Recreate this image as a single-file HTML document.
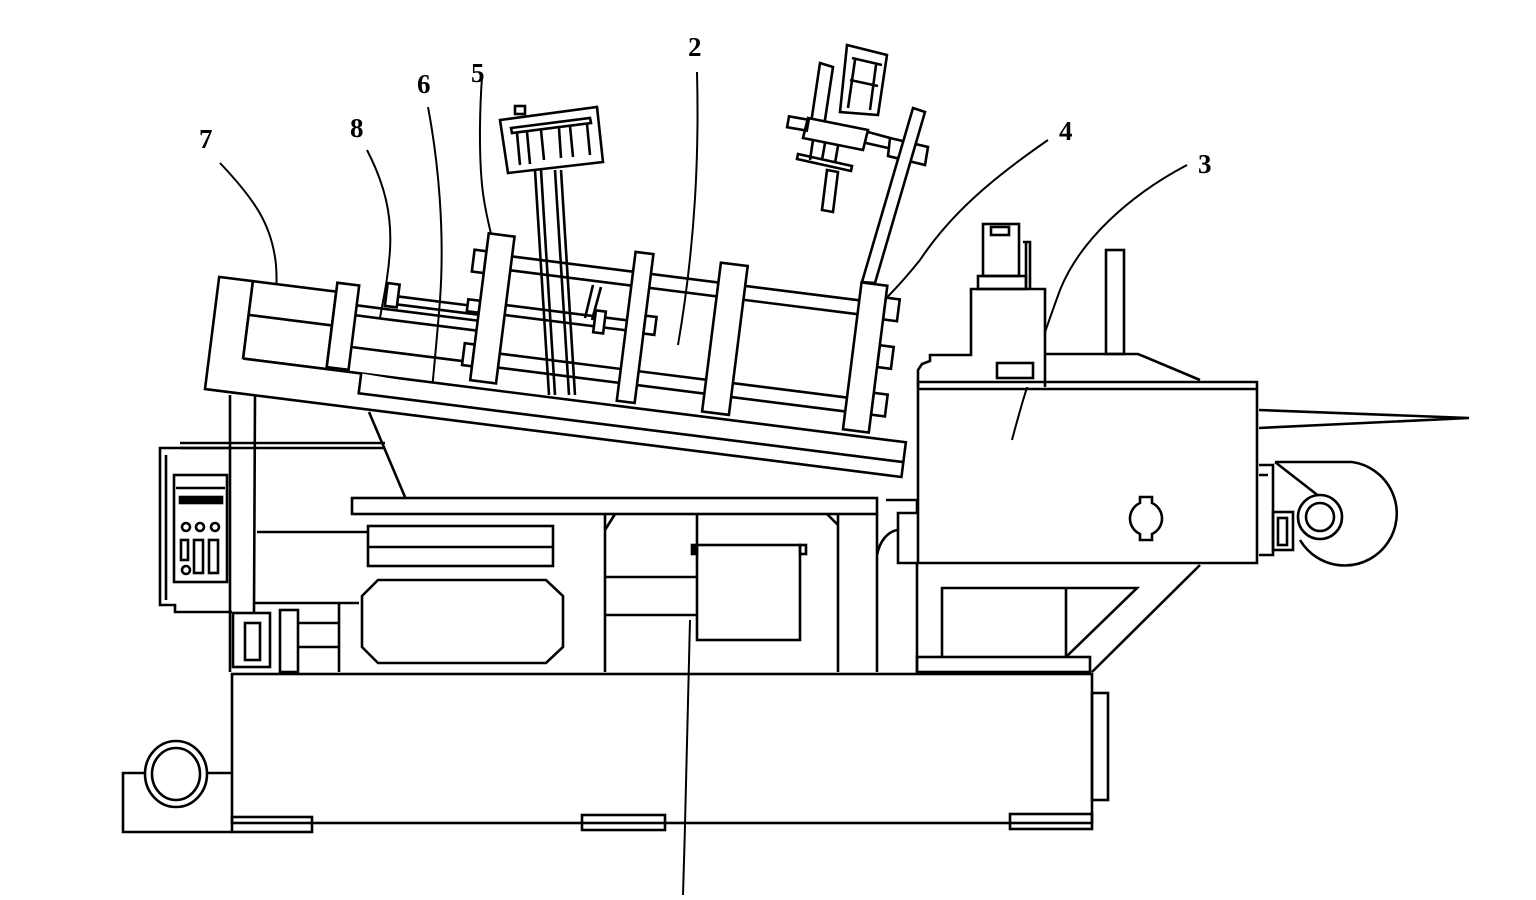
<!DOCTYPE html>
<html><head><meta charset="utf-8"><style>
html,body{margin:0;padding:0;background:#fff;}
svg{display:block;}
text{font-family:"Liberation Serif",serif;font-weight:bold;font-size:27px;fill:#000;}
</style></head><body>
<svg width="1536" height="900" viewBox="0 0 1536 900" xmlns="http://www.w3.org/2000/svg">
<g fill="none" stroke="#000" stroke-width="2.6" stroke-linejoin="miter">
<!-- labels -->
<text x="199" y="148" stroke="none">7</text>
<text x="350" y="137" stroke="none">8</text>
<text x="417" y="93" stroke="none">6</text>
<text x="471" y="82" stroke="none">5</text>
<text x="688" y="56" stroke="none">2</text>
<text x="1059" y="140" stroke="none">4</text>
<text x="1198" y="173" stroke="none">3</text>
<!-- leaders -->
<path d="M220,163 C255,200 272,225 276,265 C278,290 274,315 273,333" stroke-width="2"/>
<path d="M367,150 C385,185 392,215 390,250 C388,280 383,300 380,318" stroke-width="2"/>
<path d="M428,107 C438,160 445,230 440,300 C436,350 432,390 430,410" stroke-width="2"/>
<path d="M482,77 C479,120 479,170 484,200 C488,225 494,245 497,257" stroke-width="2"/>
<path d="M697,72 C699,150 696,240 678,345" stroke-width="2"/>
<path d="M1048,140 C990,180 950,215 920,260 C900,285 885,300 872,312" stroke-width="2"/>
<path d="M1187,165 C1130,195 1080,240 1060,290 C1040,345 1025,390 1012,440" stroke-width="2"/>
<path d="M690,620 C688,700 686,800 683,895" stroke-width="2"/>

<!-- base -->
<rect x="232" y="674" width="860" height="149"/>
<rect x="232" y="817" width="80" height="15"/>
<rect x="582" y="815" width="83" height="15"/>
<rect x="1010" y="814" width="82" height="15"/>
<rect x="1092" y="693" width="16" height="107"/>
<path d="M232,832 H123 V773 H150"/>
<line x1="200" y1="773" x2="232" y2="773"/>
<ellipse cx="176" cy="774" rx="31" ry="33" fill="#fff"/>
<ellipse cx="176" cy="774" rx="24" ry="26"/>

<!-- left control panel -->
<path d="M180,443 H385 M180,448 H385"/>
<path d="M232,448 H160 V605 H175 V612 H232"/>
<path d="M166,455 V600"/>
<rect x="174" y="475" width="53" height="107"/>
<line x1="176" y1="488" x2="225" y2="488"/>
<rect x="180" y="497" width="42" height="6" fill="#000"/>
<circle cx="186" cy="527" r="4"/><circle cx="200" cy="527" r="4"/><circle cx="215" cy="527" r="4"/>
<rect x="181" y="540" width="7" height="20"/><rect x="194" y="540" width="9" height="33"/><rect x="209" y="540" width="9" height="33"/>
<circle cx="186" cy="570" r="4"/>
<line x1="230" y1="395" x2="230" y2="672"/>
<line x1="255" y1="395" x2="254" y2="612"/>
<rect x="233" y="613" width="37" height="54"/>
<rect x="245" y="623" width="15" height="37"/>
<rect x="280" y="610" width="18" height="62"/>
<path d="M298,623 H339 M298,647 H339 M339,603 V672 M255,603 H359"/>
<line x1="257" y1="532" x2="367" y2="532"/>
<line x1="369" y1="412" x2="405" y2="497"/>

<!-- bench -->
<rect x="352" y="498" width="525" height="16"/>
<rect x="368" y="526" width="185" height="40"/>
<line x1="368" y1="547" x2="553" y2="547"/>
<path d="M378,580 H546 L563,596 V647 L546,663 H378 L362,647 V596 Z"/>
<path d="M605,514 V672 M605,577 H697 M605,615 H697"/>
<path d="M605,530 L615,514"/>
<rect x="697" y="545" width="103" height="95"/>
<rect x="692" y="545" width="5" height="9" fill="#000"/>
<rect x="800" y="545" width="6" height="9"/>
<path d="M697,514 V545 M838,514 V672 M827,514 L838,525 M877,514 V672"/>
<path d="M877,555 C880,540 888,532 897,530"/>

<!-- vertical guides & top clamp -->
<path d="M535,170 L549,395 M541,170 L555,395 M555,170 L569,395 M561,170 L575,395"/>
<path d="M500,120 L597,107 L603,162 L508,173 Z" fill="#fff"/>
<path d="M511,128 L590,118 L591,123 L512,133 Z"/>
<path d="M517,133 L520,165 M527,132 L530,164 M541,130 L544,160 M559,128 L561,158 M570,126 L573,157 M587,124 L590,155"/>
<rect x="515" y="106" width="10" height="8"/>
<path d="M593,285 L585,318 M601,287 L592,320"/>

<!-- top right clamp motor -->
<path d="M847,45 L887,55 L878,115 L840,112 Z"/>
<path d="M852,58 L882,65 M850,80 L878,86 M855,60 L848,108 M876,65 L870,110"/>
<path d="M820,63 L833,67 L823,133 L810,130 Z"/>
<path d="M808,118 L868,130 L863,150 L803,138 Z" fill="#fff"/>
<rect x="788" y="118" width="20" height="11" transform="rotate(10 798 123)"/>
<path d="M868,132 L890,138 M866,143 L888,148"/>
<path d="M890,138 L928,147 L925,165 L888,156 Z" fill="#fff"/>
<path d="M813,140 L810,160 M825,143 L822,160 M838,146 L835,163"/>
<path d="M798,154 L852,166 L851,171 L797,159 Z"/>
<path d="M827,170 L838,172 L833,212 L822,210 Z"/>
<path d="M913,108 L925,112 L875,283 L862,282 Z" fill="#fff"/>

<!-- tilted bed -->
<g transform="translate(205,389) rotate(7.2)" fill="#fff">
<rect x="0" y="-113" width="34" height="113"/>
<rect x="34" y="-113" width="84" height="78"/>
<line x1="34" y1="-79" x2="118" y2="-79"/>
<path d="M34,-35 H702 V0 H0" />
<path d="M153,-35 V-15 H702"/>
<path d="M140,-102 H262 M140,-92 H262 M140,-60 H262" fill="none"/>
<path d="M180,-116 H262 M180,-108 H262" fill="none"/>
<rect x="168" y="-128" width="12" height="23"/>
<rect x="118" y="-122" width="22" height="85"/>
<path d="M288,-170 H638 M288,-156 H638 M288,-72 H638 M288,-58 H638 M288,-121 H420 M288,-111 H420" fill="none"/>
<rect x="378" y="-127" width="10" height="22"/>
<rect x="250" y="-172" width="12" height="22"/>
<rect x="252" y="-78" width="10" height="22"/>
<rect x="250" y="-122" width="12" height="12"/>
<rect x="262" y="-190" width="26" height="148"/>
<rect x="410" y="-190" width="18" height="150"/>
<rect x="428" y="-128" width="11" height="18"/>
<rect x="496" y="-190" width="27" height="150"/>
<rect x="664" y="-176" width="14" height="22"/>
<rect x="664" y="-128" width="14" height="22"/>
<rect x="664" y="-80" width="14" height="22"/>
<rect x="638" y="-188" width="26" height="148"/>
</g>

<!-- housing 3 -->
<path d="M918,387 V370 L922,364 L930,361 V355 H971 V289 H1045 V387" fill="#fff"/>
<path d="M1045,354 H1138 L1200,380"/>
<rect x="1106" y="250" width="18" height="104"/>
<rect x="978" y="276" width="48" height="13"/>
<rect x="983" y="224" width="36" height="52"/>
<rect x="991" y="227" width="18" height="8"/>
<path d="M1023,242 H1030 V289 M1026,242 V289"/>
<rect x="997" y="363" width="36" height="15"/>
<path d="M918,382 H1257 V563 H918 Z"/>
<line x1="918" y1="389" x2="1257" y2="389"/>
<path d="M1259,410 L1469,418 L1259,428"/>
<path d="M1275,462 H1352 A52,52 0 1 1 1300,540"/>
<path d="M1275,462 L1320,497"/>
<circle cx="1320" cy="517" r="22" fill="#fff"/>
<circle cx="1320" cy="517" r="14"/>
<path d="M1259,465 H1273 V555 H1259 M1259,475 H1268"/>
<rect x="1273" y="512" width="20" height="38"/><rect x="1278" y="518" width="9" height="27"/>
<path d="M1140,503 V497 H1152 V503 A17,17 0 0 1 1152,534 V540 H1140 V534 A17,17 0 0 1 1140,503 Z"/>
<path d="M886,500 H917 V513 H898 V563 H918"/>
<path d="M942,657 V588 H1137 L1066,657 M1066,588 V657"/>
<path d="M1200,565 L1092,672"/>
<rect x="917" y="657" width="173" height="15"/>
<line x1="917" y1="563" x2="917" y2="672"/>
</g>
</svg>
</body></html>
